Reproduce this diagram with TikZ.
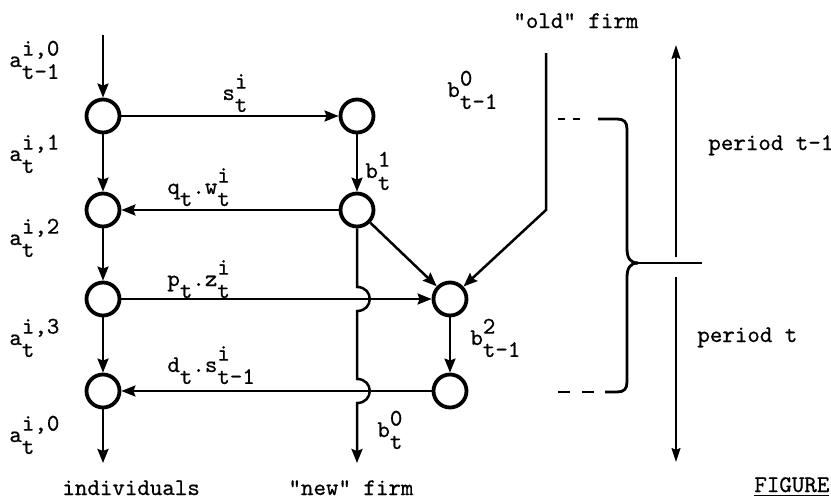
\documentclass[tikz,border=0pt]{standalone}
\usepackage{fontspec}
\usetikzlibrary{arrows.meta}

% typewriter face with a little extra ink
\newfontfamily\typew{lmmono10-regular.otf}[FakeBold=0.6]

% symbol with a superscript and a subscript stacked, typewriter style
\newlength\supw
\newlength\subw
\newcommand\ssym[3]{#1\settowidth\supw{#2}\settowidth\subw{#3}%
  \rlap{\raisebox{.48em}{#2}}\raisebox{-.5em}{#3}%
  \ifdim\supw>\subw\hspace{\dimexpr\supw-\subw\relax}\fi}
\newcommand\ssub[2]{#1\raisebox{-.5em}{#2}}

\begin{document}
\begin{tikzpicture}[x=0.5pt,y=-0.5pt,
  ring/.style={circle, draw, line width=1.9pt, minimum size=16.5pt, inner sep=0pt},
  conn/.style={line width=1.25pt, -{Stealth[length=7pt,width=5.5pt,inset=1pt]}},
  plain/.style={line width=1.25pt},
  bracepen/.style={line width=1.4pt},
  timeax/.style={line width=0.8pt, -{Stealth[length=7pt,width=4.5pt,inset=1pt]}},
  lab/.style={font=\typew\fontsize{11.9}{14}\selectfont, inner sep=0pt, anchor=base west}]

\useasboundingbox (0,0) rectangle (831,503);
\fill[white] (0,0) rectangle (831,503);
\clip (0,0) rectangle (831,503);

% households (left column)
\node[ring] (L1) at (103,116) {};
\node[ring] (L2) at (103,210) {};
\node[ring] (L3) at (103,299) {};
\node[ring] (L4) at (103,391) {};
\coordinate (Lin) at (103,35);
\coordinate (Lout) at (103,463);

% new firm (middle column)
\node[ring] (F1) at (357,116) {};
\node[ring] (F2) at (357,210) {};
\coordinate (h1a) at (357,287);
\coordinate (h1b) at (357,311);
\coordinate (h2a) at (357,379);
\coordinate (h2b) at (357,403);
\coordinate (Fout) at (357,463);

% old firm
\node[ring] (B2) at (450,299) {};
\node[ring] (B3) at (450,391) {};
\coordinate (Otop) at (546,53);
\coordinate (Obend) at (546,210);

% flows
\draw[conn] (Lin) -- (L1);
\draw[conn] (L1) -- (L2);
\draw[conn] (L2) -- (L3);
\draw[conn] (L3) -- (L4);
\draw[conn] (L4) -- (Lout);
\draw[conn] (L1) -- (F1);
\draw[conn] (F1) -- (F2);
\draw[conn] (F2) -- (L2);
\draw[conn] (F2) -- (B2);
\draw[conn] (Otop) -- (Obend) -- (B2);
\draw[conn] (B2) -- (B3);
\draw[conn] (L3) -- (B2);
\draw[conn] (B3) -- (L4);
\draw[conn] (F2) -- (h1a) .. controls +(17,0) and +(17,0) .. (h1b)
  -- (h2a) .. controls +(17,0) and +(17,0) .. (h2b) -- (Fout);

% labels
\node[lab] (la0) at (9,67) {\ssym{a}{i,0}{t-1}};
\node[lab] (la1) at (9,161) {\ssym{a}{i,1}{t}};
\node[lab] (la2) at (9,245) {\ssym{a}{i,2}{t}};
\node[lab] (la3) at (9,345) {\ssym{a}{i,3}{t}};
\node[lab] (la4) at (9,442) {\ssym{a}{i,0}{t}};
\node[lab] (ls) at (222,100) {\ssym{s}{i}{t}};
\node[lab] (lq) at (167,194) {\ssub{q}{t}.\ssym{w}{i}{t}};
\node[lab] (lp) at (167,286) {\ssub{p}{t}.\ssym{z}{i}{t}};
\node[lab] (ld) at (167,372) {\ssub{d}{t}.\ssym{s}{i}{t-1}};
\node[lab] (lb1) at (365,178) {\ssym{b}{1}{t}};
\node[lab] (lbo) at (447,97) {\ssym{b}{0}{t-1}};
\node[lab] (lb2) at (470,345) {\ssym{b}{2}{t-1}};
\node[lab] (lb0) at (377,437) {\ssym{b}{0}{t}};
\node[lab] (old) at (513,28) {"old" firm};
\node[lab, anchor=base] (new) at (351,495) {"new" firm};
\node[lab] (ind) at (62,495) {individuals};
\node[lab] (pt1) at (708,150) {period t-1};
\node[lab] (pt) at (697,342) {period t};
\node[lab] (fig) at (754,492) {\underline{FIGURE}};

% brace grouping the two periods
\coordinate (DTa) at (558,119);
\coordinate (DTb) at (582,119);
\coordinate (BTa) at (598,119);
\coordinate (Tip) at (638,263);
\coordinate (BBa) at (605,392);
\coordinate (DBa) at (558,392);
\coordinate (DBb) at (595,392);
\coordinate (Tick) at (702,263);
\draw[plain, dash pattern=on 3.5pt off 4pt] (DTa) -- (DTb);
\draw[plain, dash pattern=on 6pt off 6pt] (DBa) -- (DBb);
\draw[bracepen] (BTa) -- (617,119) .. controls (624,119) and (627,122) .. (627,129)
  -- (627,248) .. controls (627,258) and (630,263) .. (Tip);
\draw[bracepen] (Tip) .. controls (630,263) and (627,268) .. (627,278)
  -- (627,382) .. controls (627,389) and (624,392) .. (617,392) -- (BBa);
\draw[plain] (Tip) -- (Tick);

% time axis
\coordinate (Tup) at (676,45);
\coordinate (Tm1) at (676,257);
\coordinate (Tm2) at (676,277);
\coordinate (Tdn) at (676,462);
\draw[timeax] (Tm1) -- (Tup);
\draw[timeax] (Tm2) -- (Tdn);
\end{tikzpicture}
\end{document}
